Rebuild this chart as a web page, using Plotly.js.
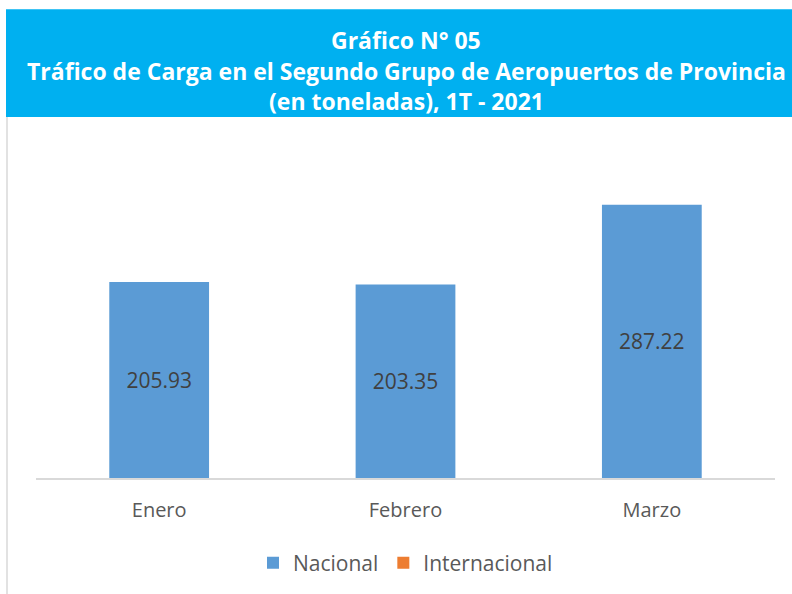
<!DOCTYPE html>
<html>
<head>
<meta charset="utf-8">
<script src="https://cdn.plot.ly/plotly-3.0.1.min.js"></script>
<style>html,body{margin:0;padding:0;background:#fff;}#chart{width:792px;height:594px;}</style>
</head>
<body>
<div id="chart"></div>
<script>
const categories = ["Enero", "Febrero", "Marzo"];
const nacional = [205.93, 203.35, 287.22];
const internacional = [0, 0, 0];
const seriesNames = ["Nacional", "Internacional"];
const titleLines = ["Gráfico N° 05", "Tráfico de Carga en el Segundo Grupo de Aeropuertos de Provincia", "(en toneladas), 1T - 2021"];

const W = 792, H = 594;
const mL = 36, mR = 17, mT = 130, mB = 115;
const pw = W - mL - mR, ph = H - mT - mB;
const px = x => (x - mL) / pw;
const py = y => (H - mB - y) / ph;

const traces = [
  {
    type: "bar", name: seriesNames[0], x: categories, y: nacional,
    marker: {color: "#5B9BD5", line: {width: 0}},
    width: 0.405,
    text: nacional.map(v => v.toFixed(2)), textposition: "inside", insidetextanchor: "middle",
    textfont: {family: "Open Sans", size: 21, color: "#404040"},
    hoverinfo: "none"
  },
  {
    type: "bar", name: seriesNames[1], x: categories, y: internacional,
    marker: {color: "#ED7D31", line: {width: 0}},
    width: 0.405, hoverinfo: "none"
  }
];

const layout = {
  width: W, height: H,
  margin: {l: mL, r: mR, t: mT, b: mB, pad: 0},
  paper_bgcolor: "#ffffff", plot_bgcolor: "#ffffff",
  barmode: "overlay",
  showlegend: true,
  legend: {orientation: "h", x: 0.5, xanchor: "center", y: py(563), yanchor: "middle",
    font: {family: "Open Sans", size: 21, color: "#595959"}, itemwidth: 30, traceorder: "normal"},
  xaxis: {
    showline: true, linecolor: "#D9D9D9", linewidth: 1.5, showgrid: false, zeroline: false,
    ticks: "", ticklabelstandoff: 13,
    tickfont: {family: "Open Sans", size: 20, color: "#595959"}, fixedrange: true
  },
  yaxis: {range: [0, 365.8], visible: false, showgrid: false, zeroline: false, fixedrange: true},
  shapes: [
    {type: "rect", xref: "paper", yref: "paper", x0: px(6), x1: px(800), y0: py(117), y1: py(9),
      fillcolor: "#00B0F0", line: {width: 0}, layer: "below"},
    {type: "line", xref: "paper", yref: "paper", x0: px(7), x1: px(7), y0: py(117), y1: py(600),
      line: {color: "#D9D9D9", width: 1.5}, layer: "below"}
  ],
  annotations: titleLines.map((t, i) => ({
    text: "<b>" + t + "</b>", xref: "paper", yref: "paper", x: px(406), y: py(40 + i * 30.5),
    xanchor: "center", yanchor: "middle", showarrow: false,
    font: {family: "Open Sans", size: 23, color: "#ffffff"}
  }))
};

Plotly.newPlot("chart", traces, layout, {displayModeBar: false, staticPlot: true});
</script>
</body>
</html>
